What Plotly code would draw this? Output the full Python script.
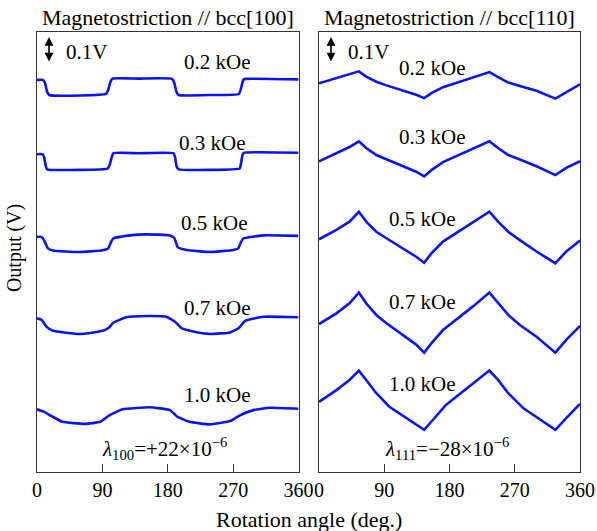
import plotly.graph_objects as go

# ---------------- data ----------------
field_labels = ["0.2 kOe", "0.3 kOe", "0.5 kOe", "0.7 kOe", "1.0 kOe"]
angle_ticks = [0, 90, 180, 270, 360]

# bcc[100] panel (angle in deg, output in V, curves offset vertically)
a100_02 = [0, 8, 11, 14, 17, 60, 95, 98, 101, 104, 140, 186, 189, 192, 195, 240, 278, 281, 284, 287, 360]
v100_02 = [1.508, 1.508, 1.496, 1.462, 1.450, 1.448, 1.454, 1.469, 1.500, 1.513, 1.513, 1.512, 1.496,
           1.462, 1.450, 1.450, 1.454, 1.477, 1.508, 1.512, 1.510]
a100_03 = [0, 8, 10, 12, 14, 60, 97, 100, 103, 105, 140, 188, 190, 192, 195, 240, 279, 281, 283, 285, 360]
v100_03 = [1.222, 1.222, 1.208, 1.177, 1.164, 1.162, 1.167, 1.181, 1.212, 1.226, 1.226, 1.226, 1.212,
           1.177, 1.164, 1.162, 1.167, 1.190, 1.220, 1.228, 1.228]
a100_05 = [0, 6, 10, 15, 22, 40, 59, 88, 98, 102, 105, 128, 151, 183, 189, 194, 206, 238, 270, 277, 281, 284,
           311, 360]
v100_05 = [0.905, 0.904, 0.890, 0.860, 0.852, 0.848, 0.846, 0.852, 0.860, 0.885, 0.898, 0.910, 0.914, 0.910,
           0.900, 0.864, 0.854, 0.846, 0.854, 0.860, 0.885, 0.898, 0.910, 0.908]
a100_07 = [0, 6.5, 13, 22, 59, 86, 98, 105, 123, 151, 178, 190, 199, 215, 238, 266, 277.5, 286.5, 312, 360]
v100_07 = [0.591, 0.585, 0.559, 0.543, 0.531, 0.540, 0.553, 0.574, 0.595, 0.600, 0.597, 0.578, 0.553, 0.540,
           0.531, 0.537, 0.553, 0.581, 0.597, 0.595]
a100_10 = [0, 10, 20, 35, 66, 87, 100, 118, 155, 183, 193, 210, 238, 266, 280, 298, 321, 360]
v100_10 = [0.241, 0.231, 0.215, 0.193, 0.185, 0.193, 0.219, 0.241, 0.249, 0.238, 0.213, 0.193, 0.183, 0.196,
           0.219, 0.238, 0.247, 0.243]

# bcc[110] panel (shared angle grid)
a110 = [0, 24, 42, 55, 65, 79, 93, 116, 134, 145, 155, 171, 189, 212, 235, 247, 261, 277, 300, 326, 341, 360]
v110_02 = [1.495, 1.515, 1.528, 1.541, 1.521, 1.501, 1.487, 1.468, 1.451, 1.438, 1.457, 1.480, 1.497, 1.517,
           1.538, 1.519, 1.498, 1.485, 1.466, 1.436, 1.460, 1.491]
v110_03 = [1.195, 1.227, 1.250, 1.272, 1.246, 1.219, 1.202, 1.176, 1.155, 1.137, 1.161, 1.192, 1.214, 1.241,
           1.272, 1.246, 1.219, 1.202, 1.176, 1.142, 1.170, 1.195]
v110_05 = [0.895, 0.931, 0.963, 1.001, 0.963, 0.924, 0.899, 0.860, 0.828, 0.805, 0.841, 0.886, 0.918, 0.957,
           1.001, 0.963, 0.924, 0.892, 0.848, 0.803, 0.848, 0.890]
v110_07 = [0.569, 0.610, 0.649, 0.690, 0.649, 0.604, 0.572, 0.527, 0.490, 0.459, 0.495, 0.546, 0.585, 0.636,
           0.690, 0.649, 0.604, 0.565, 0.520, 0.459, 0.508, 0.562]
a110_10 = [0, 24, 42, 55, 65, 79, 97, 120, 145, 157, 175, 198, 216, 235, 247, 261, 282, 305, 326, 341, 360]
v110_10 = [0.270, 0.315, 0.354, 0.390, 0.354, 0.303, 0.251, 0.207, 0.162, 0.200, 0.258, 0.309, 0.347, 0.390,
           0.354, 0.303, 0.245, 0.200, 0.162, 0.207, 0.262]

curves_100 = [(a100_02, v100_02), (a100_03, v100_03), (a100_05, v100_05), (a100_07, v100_07), (a100_10, v100_10)]
curves_110 = [(a110, v110_02), (a110, v110_03), (a110, v110_05), (a110, v110_07), (a110_10, v110_10)]

# label positions (angle, V)
label_pos_100 = [(249, 1.577), (242, 1.265), (245, 0.958), (249, 0.631), (249, 0.296)]
label_pos_110 = [(156, 1.554), (156, 1.287), (143, 0.974), (143, 0.652), (143, 0.340)]

panel_titles = ["Magnetostriction // bcc[100]", "Magnetostriction // bcc[110]"]
lambda_texts = ["<i>λ</i><sub>100</sub>=+22×10<sup>−6</sup>", "<i>λ</i><sub>111</sub>=−28×10<sup>−6</sup>"]

scale_bar_V = 0.1
y_range = [0, 1.6923]

FONT = "Liberation Serif, Times New Roman, serif"
BLUE = "#0a14f0"

fig = go.Figure()
for (a, v) in curves_100:
    fig.add_trace(go.Scatter(x=a, y=v, mode="lines", line=dict(color=BLUE, width=2.6, shape="spline", smoothing=0.4),
                             xaxis="x", yaxis="y", showlegend=False, hoverinfo="skip"))
for (a, v) in curves_110:
    fig.add_trace(go.Scatter(x=a, y=v, mode="lines", line=dict(color=BLUE, width=2.6),
                             xaxis="x2", yaxis="y2", showlegend=False, hoverinfo="skip"))

ann = []
for lab, (xx, yy) in zip(field_labels, label_pos_100):
    ann.append(dict(x=xx, y=yy, xref="x", yref="y", text=lab, showarrow=False,
                    font=dict(size=21, family=FONT, color="black")))
for lab, (xx, yy) in zip(field_labels, label_pos_110):
    ann.append(dict(x=xx, y=yy, xref="x2", yref="y2", text=lab, showarrow=False,
                    font=dict(size=21, family=FONT, color="black")))

for i, (xr, yr) in enumerate((("x", "y"), ("x2", "y2"))):
    # scale bar
    ann.append(dict(x=16.5, y=1.573 + scale_bar_V, ax=16.5, ay=1.573, xref=xr, yref=yr, axref=xr, ayref=yr,
                    text="", showarrow=True, arrowhead=2, arrowside="end+start", arrowsize=1.1,
                    arrowwidth=1.6, arrowcolor="black"))
    ann.append(dict(x=37, y=1.617, xref=xr, yref=yr, text="0.1V", showarrow=False, xanchor="left",
                    font=dict(size=21, family=FONT, color="black")))
    # lambda
    ann.append(dict(x=176 + i, y=0.092, xref=xr, yref=yr, text=lambda_texts[i], showarrow=False,
                    font=dict(size=21, family=FONT, color="black")))
    # panel title
    ann.append(dict(x=0.5, y=1, xref=xr + " domain", yref=yr + " domain", yanchor="bottom", yshift=0,
                    text=panel_titles[i], showarrow=False,
                    font=dict(size=22, family=FONT, color="black")))

# axis titles
ann.append(dict(x=0.5, y=0, xref="paper", yref="paper", yanchor="top", yshift=-33,
                text="Rotation angle (deg.)", showarrow=False,
                font=dict(size=22, family=FONT, color="black")))
ann.append(dict(x=0, y=0.51, xref="paper", yref="paper", xanchor="right", xshift=-9,
                text="Output (V)", textangle=-90, showarrow=False,
                font=dict(size=20, family=FONT, color="black")))

xaxis_common = dict(range=[0, 360], tickvals=angle_ticks, ticks="inside", ticklen=8, tickwidth=1,
                    tickcolor="#333", showline=True, linecolor="#333", linewidth=1, mirror=True,
                    showgrid=False, zeroline=False, tickfont=dict(size=20, family=FONT, color="black"),
                    fixedrange=True, automargin=False)
yaxis_common = dict(range=y_range, showticklabels=False, ticks="", showline=True, linecolor="#333",
                    linewidth=1, mirror=True, showgrid=False, zeroline=False, fixedrange=True,
                    automargin=False)

fig.update_layout(
    width=597, height=531,
    margin=dict(l=37, r=17, t=32, b=59, autoexpand=False),
    paper_bgcolor="white", plot_bgcolor="white",
    xaxis=dict(domain=[0, 0.4816], anchor="y", **xaxis_common),
    xaxis2=dict(domain=[0.5194, 1], anchor="y2", **xaxis_common),
    yaxis=dict(domain=[0, 1], anchor="x", **yaxis_common),
    yaxis2=dict(domain=[0, 1], anchor="x2", **yaxis_common),
    annotations=ann,
    font=dict(family=FONT),
)

fig.write_html("out.html", config={"displayModeBar": False},
               post_script="document.body.style.margin='0px';document.body.style.overflow='hidden';")
